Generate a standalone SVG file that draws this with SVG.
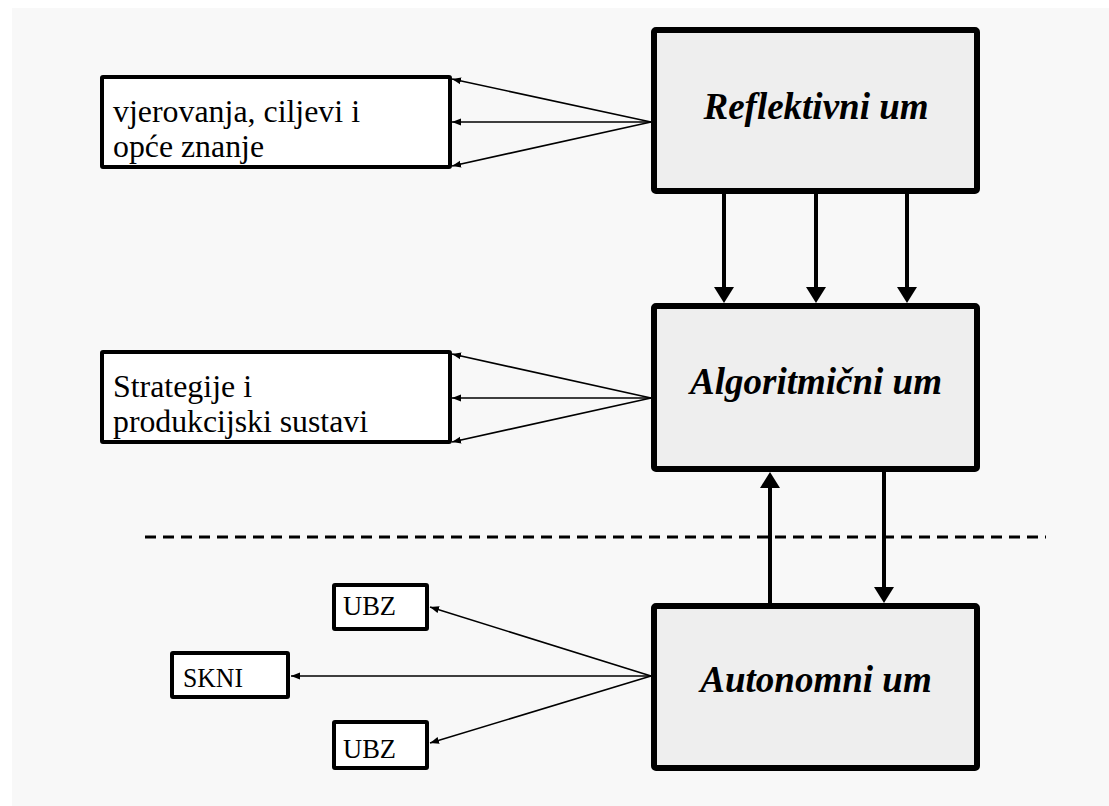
<svg xmlns="http://www.w3.org/2000/svg" width="1109" height="806" viewBox="0 0 1109 806">
<style>
.big{fill:#eeeeee;stroke:#000;stroke-width:6;}
.small{fill:#fff;stroke:#000;stroke-width:4;}
.title{font-family:"Liberation Serif","Times New Roman",serif;font-weight:bold;font-style:italic;font-size:37px;fill:#000;text-anchor:middle;}
.lbl{font-family:"Liberation Serif","Times New Roman",serif;font-size:32px;fill:#000;}
.lbls{font-family:"Liberation Serif","Times New Roman",serif;font-size:27px;fill:#000;}
.thick{stroke:#000;stroke-width:4;fill:none;marker-end:url(#ah);}
.thin{stroke:#000;stroke-width:1.6;fill:none;marker-end:url(#as);}
</style>
<defs>
<marker id="ah" markerUnits="userSpaceOnUse" viewBox="0 -10 16 20" refX="0" refY="0" markerWidth="16" markerHeight="20" orient="auto">
<path d="M0,-10 L16,0 L0,10 Z" fill="#000"/>
</marker>
<marker id="as" markerUnits="userSpaceOnUse" viewBox="0 -4 9 8" refX="9" refY="0" markerWidth="9" markerHeight="8" orient="auto">
<path d="M0,-3.5 L9,0 L0,3.5 Z" fill="#000"/>
</marker>
</defs>
<rect x="12" y="8" width="1097" height="798" fill="#f8f8f8"/>
<line x1="145" y1="537" x2="1046" y2="537" stroke="#000" stroke-width="3" stroke-dasharray="11 7"/>
<g id="connectors">
<line class="thin" x1="651" y1="122" x2="452" y2="79"/>
<line class="thin" x1="651" y1="122" x2="452" y2="122"/>
<line class="thin" x1="651" y1="122" x2="452" y2="166"/>
<line class="thin" x1="651" y1="398" x2="452" y2="354"/>
<line class="thin" x1="651" y1="398" x2="452" y2="398"/>
<line class="thin" x1="651" y1="398" x2="452" y2="442"/>
<line class="thin" x1="651" y1="676" x2="430" y2="607"/>
<line class="thin" x1="651" y1="676" x2="291" y2="676"/>
<line class="thin" x1="651" y1="676" x2="430" y2="743"/>
<line class="thick" x1="724" y1="194" x2="724" y2="287"/>
<line class="thick" x1="816" y1="194" x2="816" y2="287"/>
<line class="thick" x1="907" y1="194" x2="907" y2="287"/>
<line class="thick" x1="770" y1="603" x2="770" y2="488"/>
<line class="thick" x1="884" y1="472" x2="884" y2="587"/>
</g>
<g id="reflektivni">
<rect class="big" x="654" y="30" width="323" height="161" rx="2"/>
<text class="title" x="816" y="119">Reflektivni um</text>
</g>
<g id="algoritmicni">
<rect class="big" x="654" y="306" width="323" height="163" rx="2"/>
<text class="title" x="816" y="394">Algoritmični um</text>
</g>
<g id="autonomni">
<rect class="big" x="654" y="606" width="323" height="162" rx="2"/>
<text class="title" x="816" y="692">Autonomni um</text>
</g>
<g id="vjerovanja">
<rect class="small" x="102" y="77" width="348" height="90" rx="1"/>
<text class="lbl" x="113" y="122" textLength="247" lengthAdjust="spacingAndGlyphs">vjerovanja, ciljevi i</text>
<text class="lbl" x="113" y="157" textLength="151" lengthAdjust="spacingAndGlyphs">opće znanje</text>
</g>
<g id="strategije">
<rect class="small" x="102" y="352" width="348" height="90" rx="1"/>
<text class="lbl" x="113" y="397" textLength="139" lengthAdjust="spacingAndGlyphs">Strategije i</text>
<text class="lbl" x="113" y="432" textLength="255" lengthAdjust="spacingAndGlyphs">produkcijski sustavi</text>
</g>
<g id="ubz1">
<rect class="small" x="334" y="585" width="93" height="44" rx="1"/>
<text class="lbls" x="343" y="615" textLength="53" lengthAdjust="spacingAndGlyphs">UBZ</text>
</g>
<g id="skni">
<rect class="small" x="172" y="653" width="116" height="44" rx="1"/>
<text class="lbls" x="183" y="687" textLength="60" lengthAdjust="spacingAndGlyphs">SKNI</text>
</g>
<g id="ubz2">
<rect class="small" x="334" y="722" width="93" height="46" rx="1"/>
<text class="lbls" x="343" y="758" textLength="53" lengthAdjust="spacingAndGlyphs">UBZ</text>
</g>
</svg>
